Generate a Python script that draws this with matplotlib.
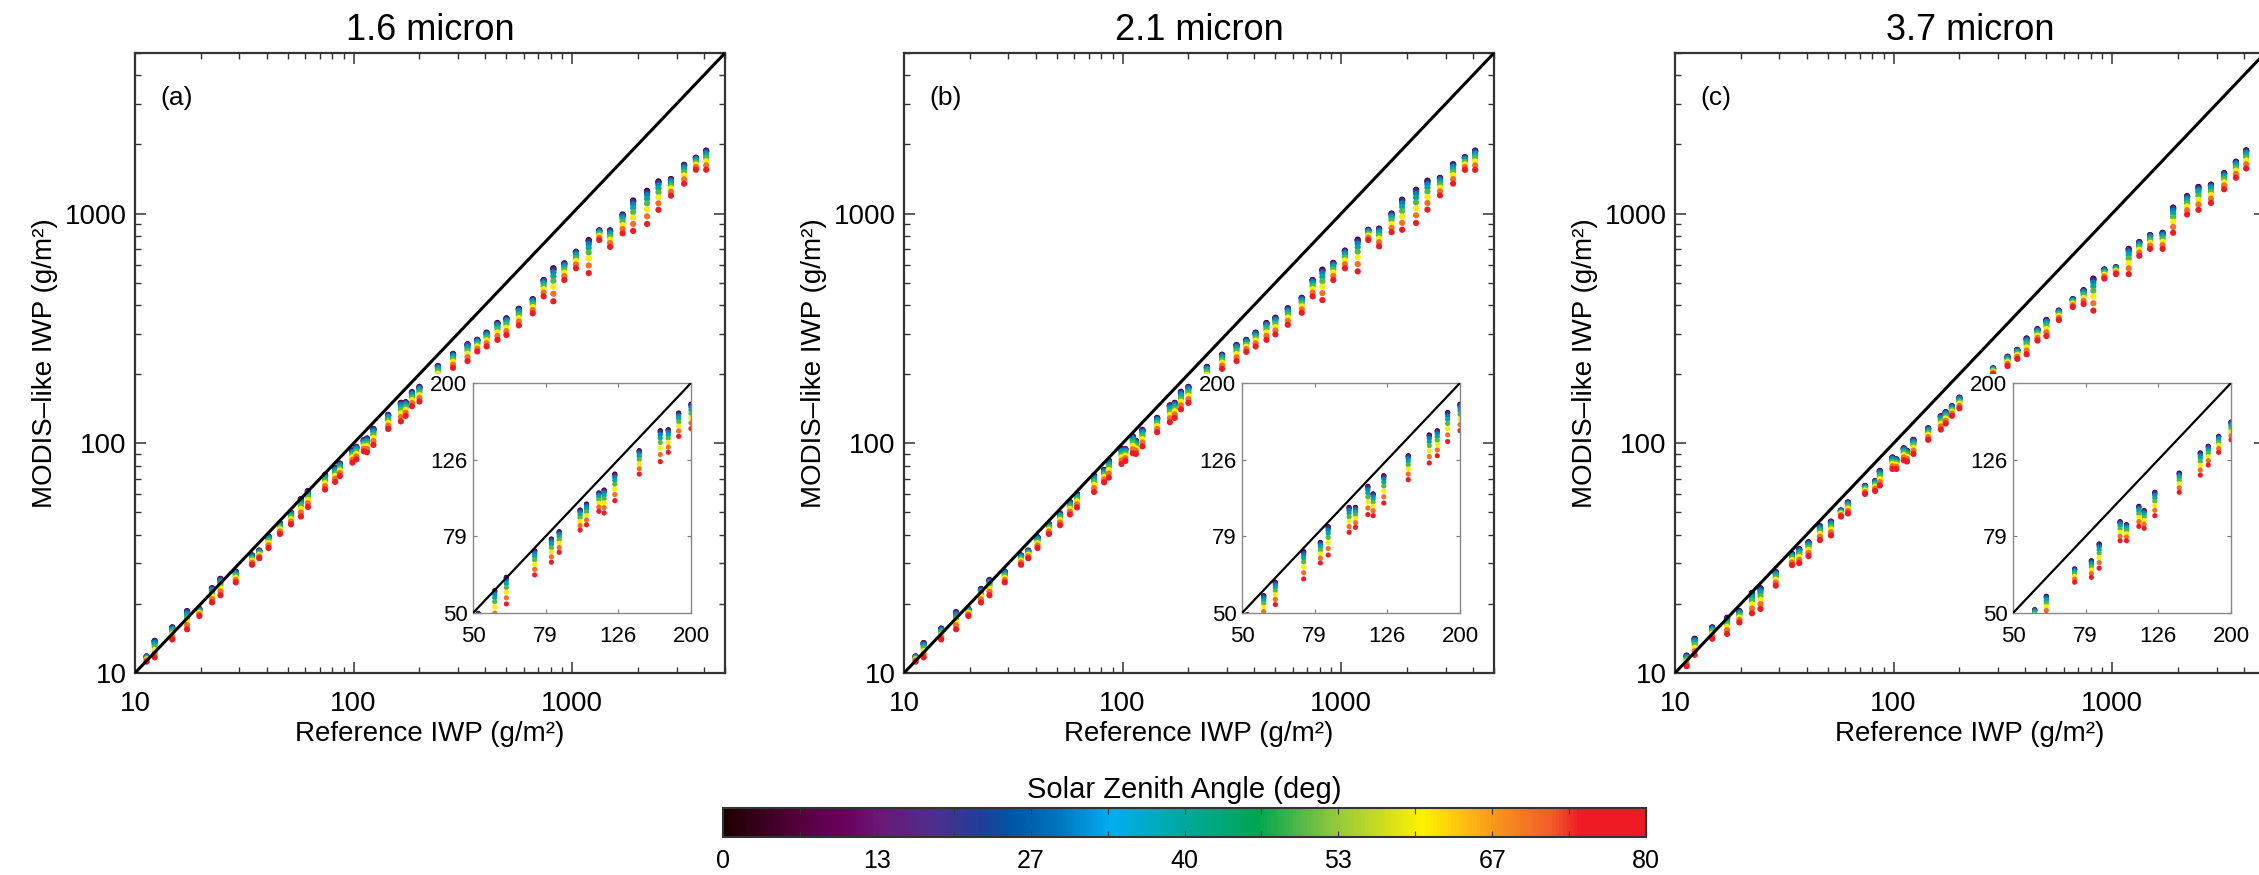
import numpy as np
import matplotlib
matplotlib.use("Agg")
import matplotlib.pyplot as plt
from matplotlib.colors import LinearSegmentedColormap, Normalize
from matplotlib.ticker import LogLocator, NullFormatter, FixedLocator

plt.rcParams['font.family'] = ['Liberation Sans', 'DejaVu Sans']

titles = ['1.6 micron', '2.1 micron', '3.7 micron']
tags = ['(a)', '(b)', '(c)']

# reference IWP of each column of dots (g/m2), same for the three panels
ref_iwp = [11.3, 12.3, 14.8, 17.3, 19.7, 22.5, 24.6, 28.9, 34.3, 37.0, 40.8, 46.0, 51.7,
           57.4, 61.8, 74.0, 82.3, 86.5, 98.8, 102.9, 111.3, 115.1, 123.2, 143.9, 164.5, 173.1, 184.9,
           200, 243, 285, 332, 368, 406, 455, 500, 570, 660, 740, 820, 920, 1040, 1190, 1330,
           1490, 1700, 1900, 2200, 2480, 2830, 3250, 3680, 4100]

# MODIS-like IWP at the top (low SZA) and bottom (SZA 80) of each column
top_a = [11.8, 13.8, 15.8, 18.6, 19.0, 23.4, 25.7, 27.6, 32.5, 34.1, 39.4, 44.9, 49.9,
         57.2, 62.0, 72.8, 78.1, 81.6, 93.0, 96.4, 103.1, 104.9, 115.5, 133.0, 150.0, 150.9, 166.9,
         176, 217, 245, 270, 282, 303, 334, 350, 385, 424, 514, 578, 607, 682, 767, 845,
         845, 990, 1140, 1256, 1380, 1413, 1630, 1750, 1880]
bot_a = [11.2, 11.7, 14.0, 15.5, 17.7, 20.3, 21.8, 24.8, 29.6, 31.6, 35.0, 40.3, 44.4,
         48.0, 52.8, 62.9, 67.9, 72.1, 82.4, 85.1, 92.3, 91.4, 98.4, 115.5, 124.5, 131.7, 145.0,
         152, 189, 213, 228, 251, 264, 282, 296, 326, 368, 436, 415, 514, 578, 551, 767,
         716, 820, 840, 901, 1038, 1197, 1349, 1552, 1552]

top_b = [11.8, 13.5, 15.6, 18.4, 19.0, 23.2, 25.4, 27.6, 32.5, 34.1, 39.0, 44.5, 49.5,
         55.5, 60.2, 72.4, 76.5, 84.1, 94.5, 94.5, 107.3, 102.5, 114.4, 129.0, 146.2, 150.0, 167.5,
         176, 215, 243, 268, 282, 303, 334, 352, 387, 430, 514, 570, 610, 690, 770, 850,
         860, 1000, 1150, 1270, 1390, 1430, 1640, 1760, 1880]
bot_b = [11.2, 11.7, 14.0, 15.5, 17.7, 20.3, 21.8, 24.8, 29.6, 31.6, 35.0, 40.3, 44.0,
         49.0, 52.6, 61.4, 67.6, 70.9, 81.3, 83.8, 90.5, 89.9, 97.0, 111.7, 123.5, 129.0, 140.5,
         150, 187, 211, 228, 250, 264, 282, 298, 328, 370, 436, 420, 514, 578, 560, 767,
         720, 830, 850, 910, 1040, 1200, 1350, 1550, 1550]

top_c = [11.9, 14.1, 15.8, 17.4, 18.6, 22.3, 23.4, 27.5, 33.0, 34.6, 37.1, 43.6, 45.6,
         51.0, 55.3, 65.2, 68.5, 75.8, 86.7, 85.1, 95.1, 92.7, 103.5, 116.2, 131.2, 136.6, 145.0,
         158, 190, 212, 238, 255, 286, 314, 344, 378, 424, 464, 521, 571, 584, 702, 752,
         806, 825, 1062, 1191, 1306, 1337, 1500, 1683, 1886]
bot_c = [10.7, 12.0, 14.1, 14.8, 16.6, 18.2, 19.0, 24.0, 29.5, 30.1, 32.3, 37.9, 39.7,
         48.0, 49.5, 60.2, 62.0, 65.5, 77.3, 77.3, 84.3, 83.3, 89.9, 103.5, 114.8, 122.0, 131.7,
         142, 170, 200, 217, 233, 244, 280, 293, 344, 392, 404, 378, 521, 545, 545, 655,
         702, 702, 825, 991, 1038, 1112, 1276, 1432, 1571]

tops = [top_a, top_b, top_c]
bots = [bot_a, bot_b, bot_c]

# solar zenith angles of the dots in each column, and where each one sits
# between the top (0) and the bottom (1) of the column
sza = [0, 10, 20, 30, 40, 50, 60, 70, 80]
sza_pos = [0.0, 0.02, 0.06, 0.13, 0.24, 0.38, 0.56, 0.77, 1.0]

cb_ticks = [0, 13.33, 26.67, 40, 53.33, 66.67, 80]
cb_labels = ['0', '13', '27', '40', '53', '67', '80']
inset_ticks = [50, 79.37, 125.99, 200]
inset_labels = ['50', '79', '126', '200']

sza_cmap = LinearSegmentedColormap.from_list('sza', [
    (0.00, '#1c0000'), (0.08, '#55003c'), (0.13, '#6a005e'), (0.17, '#6b1877'),
    (0.23, '#4b2f8e'), (0.28, '#1f3f98'), (0.31, '#0054a4'), (0.36, '#0072bc'),
    (0.42, '#00aeef'), (0.50, '#00a99d'), (0.58, '#00a651'), (0.66, '#8dc63f'),
    (0.76, '#fff200'), (0.84, '#f7941d'), (0.90, '#f15a29'), (0.93, '#ed1c24'),
    (1.00, '#ed1c24')])
norm = Normalize(0, 80)

fig = plt.figure(figsize=(22.59, 8.75), dpi=100)

lefts = [135, 904, 1675]
W, H = 2259, 875

for k in range(3):
    # build the dots of this panel
    xs, ys, cs = [], [], []
    for s, f in zip(sza, sza_pos):
        for x, t, b in zip(ref_iwp, tops[k], bots[k]):
            xs.append(x)
            ys.append(t * (b / t) ** f)
            cs.append(s)

    ax = fig.add_axes([lefts[k] / W, 202 / H, 590 / W, 620 / H])
    ax.set_xscale('log')
    ax.set_yscale('log')
    ax.plot([10, 5000], [10, 5000], color='black', lw=2.2, zorder=3)
    ax.scatter(xs, ys, c=cs, cmap=sza_cmap, norm=norm, s=20, linewidths=0, zorder=2)
    ax.set_xlim(10, 5000)
    ax.set_ylim(10, 5000)
    for axis in [ax.xaxis, ax.yaxis]:
        axis.set_major_locator(FixedLocator([10, 100, 1000]))
        axis.set_minor_locator(LogLocator(base=10, subs=range(2, 10)))
        axis.set_minor_formatter(NullFormatter())
    ax.set_xticklabels(['10', '100', '1000'])
    ax.set_yticklabels(['10', '100', '1000'])
    ax.tick_params(which='both', direction='in', top=True, right=True, labelsize=20, color='#333333')
    ax.tick_params(which='major', length=8, width=1.1)
    ax.tick_params(which='minor', length=4, width=1.0)
    ax.tick_params(axis='x', pad=13)
    ax.tick_params(axis='y', pad=6)
    for sp in ax.spines.values():
        sp.set_linewidth(1.6)
        sp.set_color('#333333')
    ax.set_xlabel('Reference IWP (g/m²)', fontsize=20, labelpad=3)
    ax.set_ylabel('MODIS–like IWP (g/m²)', fontsize=20, labelpad=5)
    ax.set_title(titles[k], fontsize=26, pad=9)
    ax.text(0.043, 0.928, tags[k], transform=ax.transAxes, fontsize=19, va='center', ha='left')

    # zoomed inset 50-200
    axi = fig.add_axes([(lefts[k] + 338) / W, 262 / H, 218 / W, 230 / H])
    axi.set_xscale('log')
    axi.set_yscale('log')
    axi.plot([50, 200], [50, 200], color='black', lw=1.6, zorder=3)
    axi.scatter(xs, ys, c=cs, cmap=sza_cmap, norm=norm, s=14, linewidths=0, zorder=2)
    axi.set_xlim(50, 200)
    axi.set_ylim(50, 200)
    for axis in [axi.xaxis, axi.yaxis]:
        axis.set_major_locator(FixedLocator(inset_ticks))
        axis.set_minor_locator(FixedLocator([]))
    axi.set_xticklabels(inset_labels)
    axi.set_yticklabels(inset_labels)
    axi.tick_params(direction='in', top=True, right=True, length=3, width=0.8,
                    color='#777777', labelsize=16)
    axi.tick_params(axis='x', pad=9)
    axi.tick_params(axis='y', pad=4)
    for sp in axi.spines.values():
        sp.set_linewidth(1.0)
        sp.set_color('#888888')
    for lbl in axi.get_yticklabels():
        lbl.set_bbox(dict(facecolor='white', edgecolor='none', pad=1))

# colorbar
cax = fig.add_axes([723 / W, 38 / H, 923 / W, 29 / H])
sm = plt.cm.ScalarMappable(cmap=sza_cmap, norm=norm)
cb = fig.colorbar(sm, cax=cax, orientation='horizontal')
cb.set_ticks(cb_ticks)
cb.set_ticklabels(cb_labels)
cb.ax.xaxis.set_minor_locator(FixedLocator([6.67, 20, 33.33, 46.67, 60, 73.33]))
cax.tick_params(which='both', direction='in', top=True, bottom=True, length=4, width=0.8,
                color='#333333', labelsize=18, pad=9)
cb.outline.set_linewidth(1.5)
cb.outline.set_edgecolor('#333333')
cax.set_title('Solar Zenith Angle (deg)', fontsize=21, pad=7)

fig.savefig('out.png', dpi=100)
